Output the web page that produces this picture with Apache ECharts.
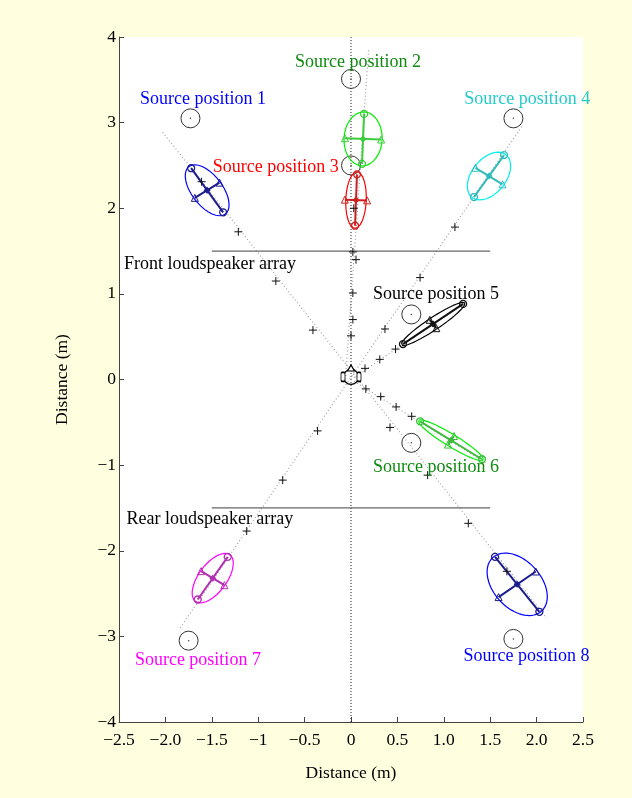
<!DOCTYPE html>
<html>
<head>
<meta charset="utf-8">
<script src="https://cdn.jsdelivr.net/npm/echarts@6/dist/echarts.min.js"></script>
<style>
  html, body { margin: 0; padding: 0; background: #ffffe0; }
  #chart { width: 632px; height: 798px; }
</style>
</head>
<body>
<div id="chart"></div>
<script>
// axis ticks
var xTicks = [-2.5, -2, -1.5, -1, -0.5, 0, 0.5, 1, 1.5, 2, 2.5];
var xTickLabels = ['\u22122.5', '\u22122.0', '\u22121.5', '\u22121', '\u22120.5', '0', '0.5', '1.0', '1.5', '2.0', '2.5'];

// sources
var srcNames = ['Source position 1', 'Source position 2', 'Source position 3', 'Source position 4',
                'Source position 5', 'Source position 6', 'Source position 7', 'Source position 8'];
var labelColors = ['#0000ff', '#0f8a0f', '#ff0000', '#22cccc', '#000000', '#0f8a0f', '#ff00ff', '#0000ff'];
var ellColors = ['#0000ff', '#00ee00', '#ff0000', '#00eeee', '#000000', '#00ee00', '#ff00ff', '#0000ff'];
var crossColors = ['#1c1c8c', '#3ccc3c', '#cc2020', '#33bbbb', '#111111', '#3cbb3c', '#b030b0', '#1c1c8c'];
var labelX = [-1.595, 0.075, -0.81, 1.9, 0.916, 0.916, -1.65, 1.89];
var labelY = [3.27, 3.70, 2.48, 3.27, 1.0, -1.02, -3.28, -3.23];

// real source positions (grey circles)
var srcX = [-1.73, 0, 0, 1.75, 0.65, 0.65, -1.75, 1.75];
var srcY = [3.05, 3.51, 2.50, 3.05, 0.76, -0.74, -3.05, -3.03];

// perceived positions: ellipse centre, orientation (deg), semi axes, marker distances
var ellX = [-1.55, 0.13, 0.054, 1.487, 0.884, 1.078, -1.49, 1.791];
var ellY = [2.21, 2.81, 2.096, 2.376, 0.648, -0.71, -2.32, -2.392];
var ellAng = [123.8, 87.8, 88, 56.5, 35.9, 146.4, 57, 126.7];
var ellA = [0.34, 0.315, 0.33, 0.31, 0.42, 0.42, 0.33, 0.41];
var ellB = [0.17, 0.205, 0.11, 0.19, 0.07, 0.07, 0.155, 0.265];
var markA = [0.31, 0.292, 0.30, 0.294, 0.40, 0.40, 0.297, 0.40];
var markB = [0.16, 0.195, 0.12, 0.175, 0.06, 0.06, 0.15, 0.25];

// small + marks
var plusX = [0.02, 0.054, 0.02, 0.02, 0.0, 1.12, 0.744, 0.366, 0.48, 0.31, 0.151,
             -1.214, -0.81, -0.41, -0.36, -0.736, -1.124, 0.16, 0.32, 0.486, 0.654,
             0.42, 0.826, 1.264, 1.68, -1.61, 0.03];
var plusY = [1.49, 1.40, 1.01, 0.70, 0.51, 1.78, 1.19, 0.59, 0.355, 0.235, 0.13,
             1.725, 1.15, 0.577, -0.6, -1.175, -1.77, -0.11, -0.20, -0.32, -0.43,
             -0.56, -1.117, -1.68, -2.24, 2.31, 2.0];

// dotted direction lines
var rayX1 = [-2.03, -1.84, 0, 0, -0.06];
var rayY1 = [2.89, -2.90, 0, 0, 0];
var rayX2 = [2.11, 1.85, 1.25, 1.45, 0.19];
var rayY2 = [-2.79, 2.97, 0.92, -0.97, 3.85];

// loudspeaker arrays
var arrayY = [1.5, -1.5];
var arrayX = [-1.5, 1.5];
var arrayNames = ['Front loudspeaker array', 'Rear loudspeaker array'];
var arrayLabelX = [-2.446, -2.42];
var arrayLabelY = [1.35, -1.63];

var FONT = 'Liberation Serif';
var series = [];

// black dotted centre line
series.push({
  type: 'line', data: [[0, -4], [0, 4]], showSymbol: false, silent: true, z: 1,
  lineStyle: { color: '#222', width: 1, type: [1, 2] }
});
for (var r = 0; r < rayX1.length; r++) {
  series.push({
    type: 'line', data: [[rayX1[r], rayY1[r]], [rayX2[r], rayY2[r]]], showSymbol: false, silent: true, z: 1,
    lineStyle: { color: '#a0a0a0', width: 1.2, type: [1, 2.5] }
  });
}
for (var k = 0; k < arrayY.length; k++) {
  series.push({
    type: 'line', data: [[arrayX[0], arrayY[k]], [arrayX[1], arrayY[k]]], showSymbol: false, silent: true, z: 2,
    lineStyle: { color: '#666', width: 1.3 }
  });
}

function rot(i, da, db) {
  var t = ellAng[i] * Math.PI / 180;
  return [ellX[i] + da * Math.cos(t) - db * Math.sin(t), ellY[i] + da * Math.sin(t) + db * Math.cos(t)];
}

for (var i = 0; i < 8; i++) {
  var pts = [];
  for (var d = 0; d <= 360; d += 5) {
    var a = d * Math.PI / 180;
    pts.push(rot(i, ellA[i] * Math.cos(a), ellB[i] * Math.sin(a)));
  }
  series.push({
    type: 'line', data: pts, showSymbol: false, silent: true, z: 4,
    lineStyle: { color: ellColors[i], width: 1.2 }
  });
  series.push({
    type: 'line', data: [rot(i, markA[i], 0), rot(i, -markA[i], 0)], showSymbol: false, silent: true, z: 5,
    lineStyle: { color: crossColors[i], width: 2 }
  });
  series.push({
    type: 'line', data: [rot(i, 0, markB[i]), rot(i, 0, -markB[i])], showSymbol: false, silent: true, z: 5,
    lineStyle: { color: crossColors[i], width: 2 }
  });
  series.push({
    type: 'scatter', data: [rot(i, markA[i], 0), rot(i, -markA[i], 0)], symbol: 'circle', symbolSize: 7, silent: true, z: 6,
    itemStyle: { color: 'rgba(0,0,0,0)', borderColor: crossColors[i], borderWidth: 1.3, opacity: 1 }
  });
  series.push({
    type: 'scatter', data: [rot(i, 0, markB[i]), rot(i, 0, -markB[i])], symbol: 'triangle', symbolSize: 7, silent: true, z: 6,
    itemStyle: { color: 'rgba(0,0,0,0)', borderColor: crossColors[i], borderWidth: 1, opacity: 1 }
  });
  series.push({
    type: 'scatter', data: [[ellX[i], ellY[i]]], symbol: 'diamond', symbolSize: 7, silent: true, z: 6,
    itemStyle: { color: crossColors[i], opacity: 1 }
  });
  series.push({
    type: 'scatter', data: [[labelX[i], labelY[i]]], symbolSize: 0, silent: true, z: 10,
    itemStyle: { opacity: 1 },
    label: { show: true, position: 'inside', formatter: srcNames[i], color: labelColors[i],
             fontFamily: FONT, fontSize: 18 }
  });
}

// real source circles
var srcPts = srcX.map(function (x, j) { return [x, srcY[j]]; });
series.push({
  type: 'scatter', data: srcPts, symbol: 'circle', symbolSize: 19, silent: true, z: 3,
  itemStyle: { color: 'rgba(0,0,0,0)', borderColor: '#333', borderWidth: 1, opacity: 1 }
});
series.push({
  type: 'scatter', data: srcPts, symbol: 'circle', symbolSize: 1.5, silent: true, z: 3,
  itemStyle: { color: '#444', opacity: 1 }
});

// + marks
series.push({
  type: 'scatter', data: plusX.map(function (x, j) { return [x, plusY[j]]; }),
  symbol: 'path://M0,5L10,5M5,0L5,10', symbolSize: 8, silent: true, z: 7,
  itemStyle: { color: 'rgba(0,0,0,0)', borderColor: '#111', borderWidth: 1, opacity: 1 }
});

// listener head
series.push({
  type: 'scatter', data: [[0, 0.03]], symbol: 'circle', symbolSize: 15, silent: true, z: 8,
  itemStyle: { color: 'rgba(0,0,0,0)', borderColor: '#000', borderWidth: 1.3, opacity: 1 }
});
series.push({
  type: 'scatter', data: [{ value: [0, 0.03], symbolOffset: [-8, 0] }, { value: [0, 0.03], symbolOffset: [8, 0] }],
  symbol: 'roundRect', symbolSize: [4, 9], silent: true, z: 8,
  itemStyle: { color: '#fff', borderColor: '#000', borderWidth: 1.2, opacity: 1 }
});
series.push({
  type: 'scatter', data: [[0, 0.03]], symbol: 'triangle', symbolSize: [7, 6], symbolOffset: [0, -9], silent: true, z: 8,
  itemStyle: { color: '#fff', borderColor: '#000', borderWidth: 1.2, opacity: 1 }
});

// array labels
for (var m = 0; m < arrayNames.length; m++) {
  series.push({
    type: 'scatter', data: [[arrayLabelX[m], arrayLabelY[m]]], symbolSize: 0, silent: true, z: 10,
    itemStyle: { opacity: 1 },
    label: { show: true, position: 'inside', align: 'left', formatter: arrayNames[m], color: '#000',
             fontFamily: FONT, fontSize: 18 }
  });
}

var chart = echarts.init(document.getElementById('chart'));
chart.setOption({
  backgroundColor: '#ffffe0',
  animation: false,
  grid: { left: 119, top: 37, width: 464, height: 685, show: true, backgroundColor: '#ffffff', borderWidth: 0 },
  xAxis: {
    type: 'value', min: -2.5, max: 2.5, interval: 0.5,
    name: 'Distance (m)', nameLocation: 'middle', nameGap: 42,
    nameTextStyle: { fontFamily: FONT, fontSize: 17.5, color: '#000' },
    axisLine: { onZero: false, lineStyle: { color: '#444', width: 1 } },
    axisTick: { inside: true, length: 5, lineStyle: { color: '#444' } },
    splitLine: { show: false },
    axisLabel: {
      fontFamily: FONT, fontSize: 17.5, color: '#000', margin: 9,
      formatter: function (v) {
        var idx = xTicks.indexOf(Math.round(v * 10) / 10);
        return idx >= 0 ? xTickLabels[idx] : '';
      }
    }
  },
  yAxis: {
    type: 'value', min: -4, max: 4, interval: 1,
    name: 'Distance (m)', nameLocation: 'middle', nameGap: 48,
    nameTextStyle: { fontFamily: FONT, fontSize: 17.5, color: '#000' },
    axisLine: { onZero: false, lineStyle: { color: '#444', width: 1 } },
    axisTick: { inside: true, length: 5, lineStyle: { color: '#444' } },
    splitLine: { show: false },
    axisLabel: {
      fontFamily: FONT, fontSize: 17.5, color: '#000', margin: 3,
      formatter: function (v) { return v < 0 ? '\u2212' + (-v) : String(v); }
    }
  },
  series: series
});
</script>
</body>
</html>
